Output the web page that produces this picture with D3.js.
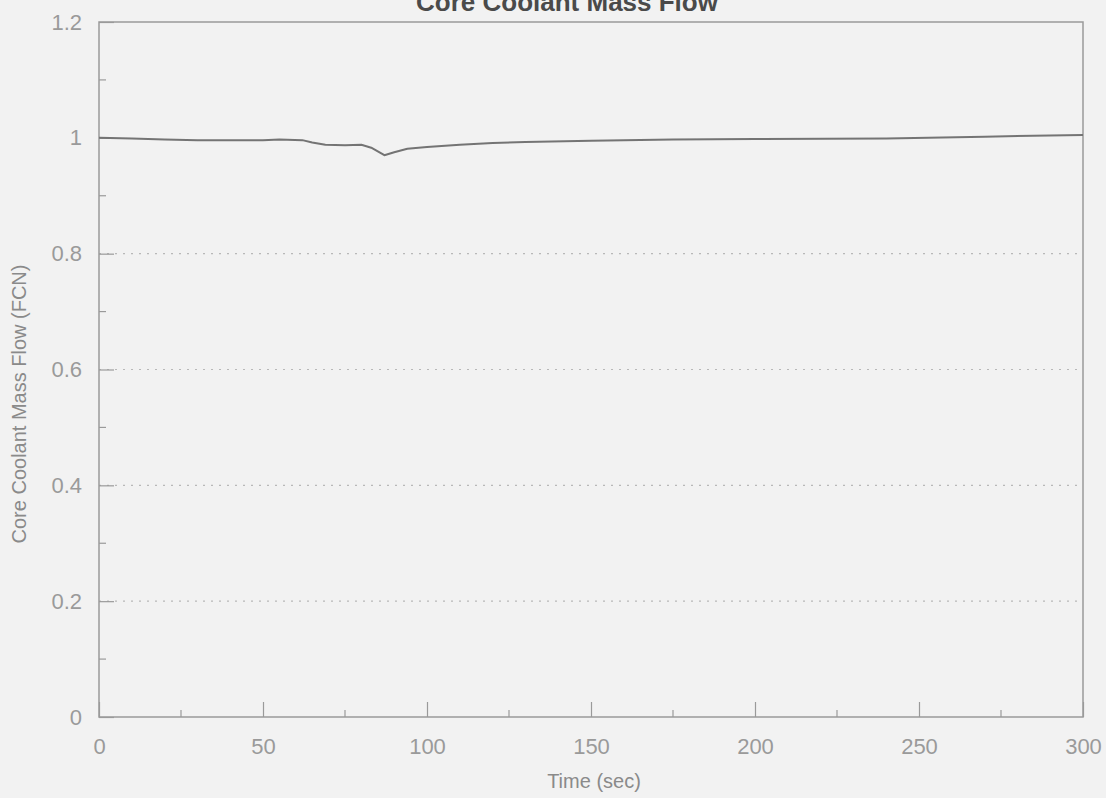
<!DOCTYPE html>
<html>
<head>
<meta charset="utf-8">
<script src="https://cdn.jsdelivr.net/npm/d3@7"></script>
<style>
  html, body { margin: 0; padding: 0; background: #f2f2f2; }
  svg { display: block; }
</style>
</head>
<body>
<svg id="chart" width="1106" height="798"></svg>
<script>
// Core coolant mass flow, normalised (FCN), versus time in seconds
const timeSec = [0, 10, 20, 30, 40, 50, 55, 62, 65, 69, 75, 80, 83, 87, 90, 94, 100, 110, 120, 130, 150, 175, 200, 240, 270, 300];
const massFlow = [1.000, 0.999, 0.997, 0.996, 0.996, 0.996, 0.997, 0.996, 0.992, 0.988, 0.987, 0.988, 0.983, 0.970, 0.975, 0.981, 0.984, 0.988, 0.991, 0.993, 0.995, 0.997, 0.998, 0.999, 1.002, 1.005];
const xTicks = [0, 50, 100, 150, 200, 250, 300];
const xMinorTicks = [25, 75, 125, 175, 225, 275];
const yTicks = [0, 0.2, 0.4, 0.6, 0.8, 1, 1.2];
const yMinorTicks = [0.1, 0.3, 0.5, 0.7, 0.9, 1.1];
const gridValues = [0.2, 0.4, 0.6, 0.8];

const svg = d3.select("#chart");
const plotLeft = 99, plotRight = 1083, plotTop = 22, plotBottom = 717;
const font = "'Liberation Sans', Arial, Helvetica, sans-serif";
const axisGrey = "#9a9a9a";

const x = d3.scaleLinear().domain([0, 300]).range([plotLeft, plotRight]);
const y = d3.scaleLinear().domain([0, 1.2]).range([plotBottom, plotTop]);

svg.append("rect").attr("width", 1106).attr("height", 798).attr("fill", "#f2f2f2");

// dotted horizontal grid
svg.append("g").selectAll("line").data(gridValues).join("line")
  .attr("x1", plotLeft).attr("x2", plotRight)
  .attr("y1", d => y(d)).attr("y2", d => y(d))
  .attr("stroke", "#b8b8b8").attr("stroke-width", 1.2)
  .attr("stroke-dasharray", "2,6");

// frame
svg.append("rect")
  .attr("x", plotLeft).attr("y", plotTop)
  .attr("width", plotRight - plotLeft).attr("height", plotBottom - plotTop)
  .attr("fill", "none").attr("stroke", axisGrey).attr("stroke-width", 1.5);

// bottom axis, ticks pointing inward
const xAxis = svg.append("g").attr("transform", `translate(0,${plotBottom})`)
  .call(d3.axisBottom(x).tickValues(xTicks).tickFormat(d3.format("d")).tickSize(-15).tickPadding(21));
xAxis.select(".domain").remove();
xAxis.selectAll(".tick line").attr("stroke", axisGrey).attr("stroke-width", 1.2);
xAxis.selectAll(".tick text")
  .attr("font-family", font).attr("font-size", 22).attr("fill", axisGrey);
svg.append("g").selectAll("line").data(xMinorTicks).join("line")
  .attr("x1", d => x(d)).attr("x2", d => x(d))
  .attr("y1", plotBottom).attr("y2", plotBottom - 7)
  .attr("stroke", axisGrey).attr("stroke-width", 1.2);

// left axis, ticks pointing inward
const yAxis = svg.append("g").attr("transform", `translate(${plotLeft},0)`)
  .call(d3.axisLeft(y).tickValues(yTicks).tickFormat(d => d3.format("~g")(d)).tickSize(-15).tickPadding(17));
yAxis.select(".domain").remove();
yAxis.selectAll(".tick line").attr("stroke", axisGrey).attr("stroke-width", 1.2);
yAxis.selectAll(".tick text")
  .attr("font-family", font).attr("font-size", 22).attr("fill", axisGrey);
svg.append("g").selectAll("line").data(yMinorTicks).join("line")
  .attr("x1", plotLeft).attr("x2", plotLeft + 7)
  .attr("y1", d => y(d)).attr("y2", d => y(d))
  .attr("stroke", axisGrey).attr("stroke-width", 1.2);

// flow trace
const line = d3.line().x((d, i) => x(timeSec[i])).y(d => y(d));
svg.append("path").datum(massFlow)
  .attr("d", line)
  .attr("fill", "none").attr("stroke", "#747474").attr("stroke-width", 2)
  .attr("stroke-linejoin", "round");

// titles
svg.append("text")
  .attr("x", 567).attr("y", 11).attr("text-anchor", "middle")
  .attr("font-family", font).attr("font-weight", "bold").attr("font-size", 26)
  .attr("fill", "#4a4a4a")
  .text("Core Coolant Mass Flow");

svg.append("text")
  .attr("x", 594).attr("y", 788).attr("text-anchor", "middle")
  .attr("font-family", font).attr("font-size", 20).attr("fill", "#8a8a8a")
  .text("Time (sec)");

svg.append("text")
  .attr("transform", "translate(26,404) rotate(-90)")
  .attr("text-anchor", "middle")
  .attr("font-family", font).attr("font-size", 20).attr("fill", "#8a8a8a")
  .text("Core Coolant Mass Flow (FCN)");
</script>
</body>
</html>
